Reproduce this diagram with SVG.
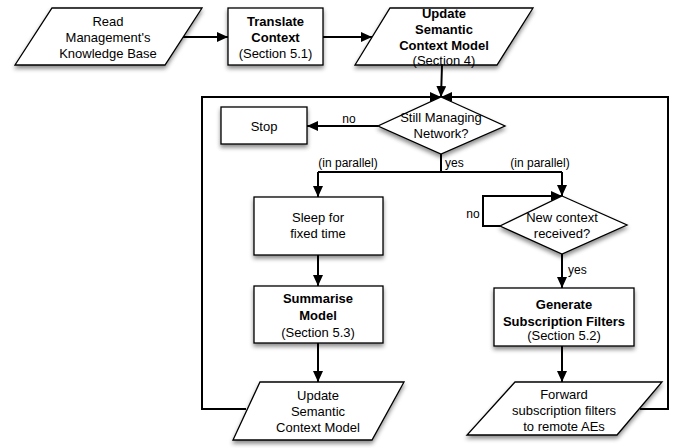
<svg xmlns="http://www.w3.org/2000/svg" width="681" height="448" viewBox="0 0 681 448">
<defs>
<filter id="sh" x="-20%" y="-20%" width="140%" height="150%">
<feDropShadow dx="0" dy="3" stdDeviation="2" flood-color="#000" flood-opacity="0.45"/>
</filter>
<marker id="ah" markerWidth="12" markerHeight="10" refX="11" refY="5" orient="auto" markerUnits="userSpaceOnUse">
<path d="M0,0 L11,5 L0,10 Z" fill="#000"/>
</marker>
</defs>
<style>
.s{fill:#fff;stroke:#000;stroke-width:1.3;filter:url(#sh)}
.t{font-family:"Liberation Sans",Arial,sans-serif;font-size:13px;text-anchor:middle;fill:#000}
.b{font-weight:bold}
.l{font-family:"Liberation Sans",Arial,sans-serif;font-size:12px;fill:#000}
.c{fill:none;stroke:#000;stroke-width:2}
.a{marker-end:url(#ah)}
</style>
<g id="connectors">
<path class="c a" d="M183,37 L228,37"/>
<path class="c a" d="M323,37 L372,37"/>
<path class="c a" d="M442,65 L441,97"/>
<path class="c a" d="M246,409 L202,409 L202,97 L441,97"/>
<path class="c a" d="M640,409 L668,409 L668,97 L441,97"/>
<path class="c a" d="M378,126 L307,126"/>
<path class="c" d="M441,154 L441,172 M318,172 L562,172"/>
<path class="c a" d="M318,172 L318,197"/>
<path class="c a" d="M562,172 L562,196"/>
<path class="c a" d="M500,226 L483,226 L483,196 L562,196"/>
<path class="c a" d="M562,254 L562,288"/>
<path class="c a" d="M318,255 L318,286"/>
<path class="c a" d="M318,343 L318,382"/>
<path class="c a" d="M562,346 L562,382"/>
<text class="l" x="349" y="123" text-anchor="middle">no</text>
<text class="l" x="445" y="167">yes</text>
<text class="l" x="348" y="167" text-anchor="middle">(in parallel)</text>
<text class="l" x="540" y="167" text-anchor="middle">(in parallel)</text>
<text class="l" x="473" y="218" text-anchor="middle">no</text>
<text class="l" x="568" y="274">yes</text>
</g>
<g id="read-kb">
<polygon class="s" points="52,8 202,8 165,65 15,65"/>
<text class="t" x="108" y="26">Read</text>
<text class="t" x="108" y="42">Management's</text>
<text class="t" x="108" y="58">Knowledge Base</text>
</g>
<g id="translate">
<rect class="s" x="228" y="8" width="95" height="57"/>
<text class="t b" x="275.5" y="26">Translate</text>
<text class="t b" x="275.5" y="42">Context</text>
<text class="t" x="275.5" y="58">(Section 5.1)</text>
</g>
<g id="update-top">
<polygon class="s" points="390,8 533,8 497,65 355,65"/>
<text class="t b" x="444" y="18">Update</text>
<text class="t b" x="444" y="34">Semantic</text>
<text class="t b" x="444" y="50">Context Model</text>
<text class="t" x="444" y="65">(Section 4)</text>
</g>
<g id="still-managing">
<polygon class="s" points="441,97 505,126 441,154 378,126"/>
<text class="t" x="441" y="122">Still Managing</text>
<text class="t" x="441" y="138">Network?</text>
</g>
<g id="stop">
<rect class="s" x="221" y="107" width="86" height="37"/>
<text class="t" x="264" y="130.5">Stop</text>
</g>
<g id="sleep">
<rect class="s" x="254" y="197" width="129" height="58"/>
<text class="t" x="318" y="222">Sleep for</text>
<text class="t" x="318" y="238">fixed time</text>
</g>
<g id="summarise">
<rect class="s" x="254" y="286" width="129" height="57"/>
<text class="t b" x="318" y="303">Summarise</text>
<text class="t b" x="318" y="320">Model</text>
<text class="t" x="318" y="337">(Section 5.3)</text>
</g>
<g id="update-bottom">
<polygon class="s" points="260,382 404,382 372,440 233,440"/>
<text class="t" x="318" y="400">Update</text>
<text class="t" x="318" y="416">Semantic</text>
<text class="t" x="318" y="432">Context Model</text>
</g>
<g id="new-context">
<polygon class="s" points="562,196 627,225 562,254 500,226"/>
<text class="t" x="562" y="222">New context</text>
<text class="t" x="562" y="238">received?</text>
</g>
<g id="generate">
<rect class="s" x="494" y="288" width="140" height="58"/>
<text class="t b" x="564" y="309">Generate</text>
<text class="t b" x="564" y="326">Subscription Filters</text>
<text class="t" x="564" y="340">(Section 5.2)</text>
</g>
<g id="forward">
<polygon class="s" points="515,382 662,382 617,435 467,435"/>
<text class="t" x="564" y="399">Forward</text>
<text class="t" x="564" y="415">subscription filters</text>
<text class="t" x="564" y="431">to remote AEs</text>
</g>
</svg>
